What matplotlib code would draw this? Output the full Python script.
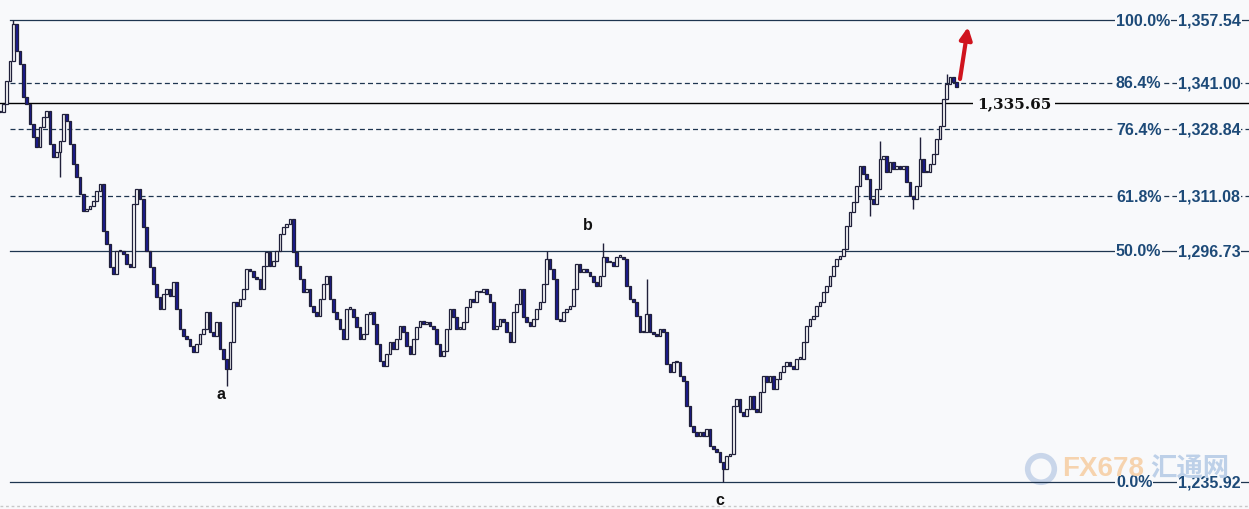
import matplotlib
matplotlib.use("Agg")
import matplotlib.pyplot as plt
from matplotlib.patches import Ellipse

# ---------------- data ----------------
closes = [
    1333.3, 1335.4, 1341.5, 1346.8, 1356.5, 1349.4, 1346.0, 1337.3, 1335.4, 1330.2,
    1326.7, 1324.1, 1329.4, 1332.0, 1333.6, 1324.9, 1321.5, 1322.8, 1325.7, 1332.8,
    1331.0, 1324.9, 1319.6, 1316.2, 1311.7, 1307.3, 1307.8, 1308.6, 1309.9, 1312.5,
    1314.4, 1302.0, 1298.6, 1292.5, 1290.7, 1296.7, 1296.7, 1295.9, 1293.3, 1292.5,
    1309.1, 1313.1, 1310.4, 1303.1, 1296.7, 1292.5, 1288.0, 1284.6, 1281.5, 1285.4,
    1286.7, 1284.9, 1288.6, 1281.5, 1276.2, 1274.4, 1273.6, 1271.7, 1270.1, 1272.3,
    1274.9, 1276.2, 1280.7, 1275.4, 1274.4, 1278.0, 1270.9, 1268.3, 1265.7, 1272.8,
    1283.3, 1282.3, 1284.1, 1286.7, 1292.0, 1291.5, 1289.9, 1289.4, 1286.7, 1292.8,
    1296.5, 1292.8, 1294.1, 1296.7, 1301.2, 1303.1, 1303.8, 1305.2, 1296.5, 1292.8,
    1289.4, 1285.9, 1286.7, 1282.3, 1280.7, 1279.6, 1284.1, 1288.0, 1290.2, 1284.1,
    1280.7, 1278.8, 1276.2, 1273.6, 1281.5, 1281.5, 1279.4, 1276.7, 1273.6, 1274.9,
    1280.2, 1280.7, 1277.5, 1272.3, 1267.8, 1266.5, 1269.6, 1272.8, 1270.9, 1273.6,
    1277.0, 1275.4, 1271.7, 1269.6, 1273.6, 1276.7, 1278.3, 1277.5, 1278.0, 1277.0,
    1276.2, 1272.3, 1269.1, 1270.4, 1276.2, 1281.5, 1279.4, 1276.2, 1276.2, 1278.0,
    1282.0, 1284.1, 1283.3, 1286.2, 1285.9, 1286.7, 1285.4, 1283.3, 1276.2, 1277.0,
    1278.8, 1278.0, 1275.4, 1272.8, 1280.7, 1282.8, 1286.7, 1279.4, 1278.0, 1277.0,
    1278.8, 1281.5, 1283.3, 1288.0, 1294.6, 1292.0, 1289.4, 1278.8, 1278.3, 1280.7,
    1281.5, 1282.3, 1286.7, 1293.3, 1291.2, 1292.0, 1291.2, 1290.2, 1288.6, 1287.5,
    1290.2, 1295.2, 1293.8, 1293.8, 1292.8, 1295.2, 1295.2, 1294.6, 1287.5, 1284.1,
    1283.3, 1279.6, 1275.4, 1275.4, 1280.2, 1275.4, 1274.9, 1274.4, 1276.2, 1275.4,
    1267.0, 1264.9, 1267.5, 1267.5, 1263.8, 1262.5, 1255.9, 1250.7, 1249.1, 1248.0,
    1249.1, 1248.0, 1249.9, 1245.4, 1244.6, 1243.8, 1241.2, 1239.3, 1242.8, 1243.3,
    1255.9, 1257.8, 1254.4, 1253.3, 1255.1, 1258.6, 1255.1, 1254.4, 1259.6, 1263.8,
    1262.3, 1263.8, 1260.4, 1263.0, 1264.9, 1266.5, 1267.5, 1266.5, 1265.7, 1268.3,
    1268.3, 1272.8, 1277.0, 1278.8, 1279.6, 1282.3, 1283.3, 1285.9, 1287.5, 1290.2,
    1292.8, 1294.6, 1295.4, 1297.3, 1303.3, 1307.0, 1309.6, 1313.8, 1319.1, 1317.0,
    1315.7, 1310.4, 1309.1, 1313.1, 1321.0, 1321.7, 1317.5, 1320.2, 1318.3, 1319.1,
    1318.3, 1319.1, 1314.9, 1311.2, 1310.4, 1313.8, 1321.0, 1317.5, 1317.5, 1319.6,
    1322.3, 1326.2, 1329.6, 1336.7, 1340.7, 1342.5, 1341.2, 1339.9,
]

# notable wick extremes (candle index, price)
high_idx = [4, 164, 181, 194, 264, 276, 284]
high_val = [1357.5, 1296.7, 1298.9, 1289.4, 1325.7, 1326.7, 1343.2]
low_idx = [18, 68, 217, 261, 274]
low_val = [1316.2, 1261.2, 1235.9, 1306.0, 1307.9]

fib_pcts = ["100.0%", "86.4%", "76.4%", "61.8%", "50.0%", "0.0%"]
fib_levels = [1357.54, 1341.00, 1328.84, 1311.08, 1296.73, 1235.92]
fib_values = ["1,357.54", "1,341.00", "1,328.84", "1,311.08", "1,296.73", "1,235.92"]
fib_dashed = [False, True, True, True, False, False]
marker_level = 1335.65
marker_text = "1,335.65"
wave_labels = ["a", "b", "c"]

# ---------------- style ----------------
BG = "#f8f9fb"
FIB_COLOR = "#1e3550"
LABEL_COLOR = "#1d4a78"
DOWN_COLOR = "#1a1a90"
EDGE_COLOR = "#20203a"

W, H = 1249, 510
fig = plt.figure(figsize=(W / 100, H / 100), dpi=100, facecolor=BG)
ax = fig.add_axes([0, 0, 1, 1])
ax.set_facecolor(BG)
ax.set_xlim(0, W * 0.3)
ax.set_ylim(1228.81, 1363.07)
ax.axis("off")

# ---------------- candles ----------------
opens = [closes[0]] + closes[:-1]
highs = [max(o, c) for o, c in zip(opens, closes)]
lows = [min(o, c) for o, c in zip(opens, closes)]
for i, v in zip(high_idx, high_val):
    highs[i] = max(highs[i], v)
for i, v in zip(low_idx, low_val):
    lows[i] = min(lows[i], v)

xs = list(range(len(closes)))
ax.vlines(xs, lows, highs, color=EDGE_COLOR, lw=1.0, zorder=3)
for x, o, c in zip(xs, opens, closes):
    bottom = min(o, c)
    height = max(abs(c - o), 0.4)
    up = c >= o
    ax.bar(x, height, bottom=bottom, width=0.85,
           color="white" if up else DOWN_COLOR,
           edgecolor=EDGE_COLOR, linewidth=0.9, zorder=4)

# ---------------- watermark ----------------
ax.add_patch(Ellipse((1041 * 0.3, 1363.07 - 470 * 0.26325), 8.0, 7.0,
                     facecolor="none", edgecolor="#c9d6ea", lw=4, zorder=1))
fig.text(1062 / W, 1 - 469 / H, "FX678", fontsize=20, fontweight="bold",
         color="#f6d3ae", va="center", ha="left", family="Liberation Sans", zorder=1)
fig.text(1150 / W, 1 - 469 / H, "汇通网", fontsize=19, fontweight="bold",
         color="#bdd0e8", va="center", ha="left",
         family=["Noto Sans CJK SC", "DejaVu Sans"], zorder=1)

# ---------------- fib lines ----------------
ytr = ax.get_yaxis_transform()
for pct, lvl, val, dashed in zip(fib_pcts, fib_levels, fib_values, fib_dashed):
    ax.axhline(lvl, xmin=10 / W, xmax=1.0, color=FIB_COLOR, lw=0.9,
               ls=(0, (4, 2.5)) if dashed else "-", zorder=2)
    bb = dict(facecolor=BG, edgecolor="none", pad=0.5)
    ax.text(1116 / W, lvl, pct, transform=ytr, fontsize=11.5, fontweight="bold",
            color=LABEL_COLOR, va="center", ha="left", family="Liberation Sans",
            bbox=bb, zorder=6)
    ax.text(1178 / W, lvl, val, transform=ytr, fontsize=11.5, fontweight="bold",
            color=LABEL_COLOR, va="center", ha="left", family="Liberation Sans",
            bbox=bb, zorder=6)

ax.axhline(marker_level, xmin=0, xmax=1.0, color="black", lw=1.0, zorder=2)
ax.text(977 / W, marker_level, marker_text, transform=ytr, fontsize=11,
        fontweight="bold", color="#111111", va="center", ha="left",
        family="DejaVu Serif",
        bbox=dict(facecolor=BG, edgecolor="none", pad=2.5), zorder=6)

# bottom gray rule
ax.axhline(1363.07 - 507 * 0.26325, color="#c8c8c8", lw=1.0, ls=(0, (2, 2)), zorder=1)

# ---------------- wave labels ----------------
wave_pos = [(221 * 0.3, 1363.07 - 395 * 0.26325),
            (588 * 0.3, 1363.07 - 226 * 0.26325),
            (720 * 0.3, 1363.07 - 501 * 0.26325)]
for lab, (x, y) in zip(wave_labels, wave_pos):
    ax.text(x, y, lab, fontsize=11.5, fontweight="bold", color="#111111",
            ha="center", va="center", family="Liberation Sans", zorder=6)

# ---------------- red arrow ----------------
ax.annotate("", xy=(968 * 0.3, 1363.07 - 28 * 0.26325),
            xytext=(960 * 0.3, 1363.07 - 80 * 0.26325),
            arrowprops=dict(arrowstyle="-|>", color="#d0141e", lw=3,
                            mutation_scale=18, shrinkA=0, shrinkB=0),
            zorder=7)

fig.savefig("out.png", dpi=100, facecolor=BG)
